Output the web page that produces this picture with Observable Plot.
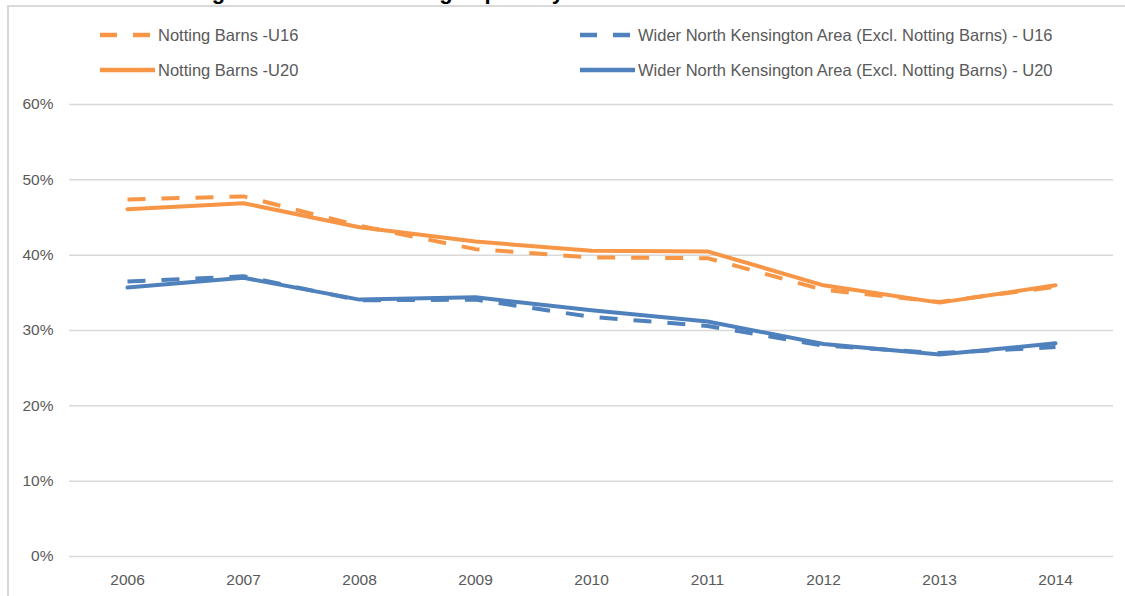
<!DOCTYPE html>
<html>
<head>
<meta charset="utf-8">
<script src="https://cdn.jsdelivr.net/npm/d3@7"></script>
<script src="https://cdn.jsdelivr.net/npm/@observablehq/plot@0.6"></script>
<style>
  html, body { margin: 0; padding: 0; background: #fff; overflow: hidden; }
  body { width: 1125px; height: 596px; position: relative; font-family: "Liberation Sans", Arial, sans-serif; }
  #title { position: absolute; left: 15px; top: -18px; font: bold 22px "Liberation Sans", Arial, sans-serif; line-height: 20px; color: #000; white-space: nowrap; }
  #frame { position: absolute; left: 7px; top: 5px; width: 1118px; height: 591px; border-top: 2px solid #d9d9d9; border-left: 2px solid #d9d9d9; box-sizing: border-box; background: transparent; }
  #legend { position: absolute; left: 0; top: 0; width: 1125px; height: 90px; }
  .item { position: absolute; height: 20px; display: flex; align-items: center; font-size: 16.5px; color: #595959; white-space: nowrap; }
  .item svg { margin-right: 3px; }
  #chart { position: absolute; left: 0; top: 90px; }
</style>
</head>
<body>
<div id="title">Chart 6: Children aged U16 and U20 living in poverty 2006 to 2014</div>
<div id="frame"></div>
<div id="legend"></div>
<div id="chart"></div>
<script>
const years = [2006, 2007, 2008, 2009, 2010, 2011, 2012, 2013, 2014];
const seriesNames = [
  "Notting Barns -U16",
  "Wider North Kensington Area (Excl. Notting Barns) - U16",
  "Notting Barns -U20",
  "Wider North Kensington Area (Excl. Notting Barns) - U20"
];
const nbU16 = [47.4, 47.8, 43.9, 40.8, 39.7, 39.6, 35.4, 33.8, 35.8];
const wnkU16 = [36.5, 37.2, 34.0, 34.1, 31.8, 30.6, 28.0, 27.0, 27.8];
const nbU20 = [46.1, 46.9, 43.7, 41.8, 40.6, 40.5, 36.0, 33.7, 36.0];
const wnkU20 = [35.7, 37.0, 34.1, 34.4, 32.7, 31.2, 28.2, 26.8, 28.3];
const yTicks = [0, 10, 20, 30, 40, 50, 60];

const orange = "#F79646";
const blue = "#4F81BD";
const styles = [
  {color: orange, dash: "18,16"},
  {color: blue, dash: "18,16"},
  {color: orange, dash: null},
  {color: blue, dash: null}
];
const values = [nbU16, wnkU16, nbU20, wnkU20];

const data = [];
values.forEach((vals, s) => vals.forEach((v, i) => data.push({series: seriesNames[s], year: years[i], value: v})));

// Legend
const legend = document.getElementById("legend");
const legendPos = [
  {x: 100, y: 25}, {x: 580, y: 25}, {x: 100, y: 60}, {x: 580, y: 60}
];
seriesNames.forEach((name, i) => {
  const div = document.createElement("div");
  div.className = "item";
  div.style.left = legendPos[i].x + "px";
  div.style.top = legendPos[i].y + "px";
  const st = styles[i];
  div.innerHTML = `<svg width="55" height="10"><line x1="0" y1="5" x2="55" y2="5" stroke="${st.color}" stroke-width="4.5" ${st.dash ? `stroke-dasharray="17,16"` : ""}/></svg><span>${name}</span>`;
  legend.appendChild(div);
});

const marks = [
  Plot.ruleY(yTicks, {stroke: "#d9d9d9", strokeWidth: 1.5}),
  Plot.axisY({ticks: yTicks, tickSize: 0, tickPadding: 16, tickFormat: d => d + "%", fontSize: 15.5, fill: "#595959"}),
  Plot.axisX({tickSize: 0, tickPadding: 17, tickFormat: d => String(d), fontSize: 15.5, fill: "#595959"})
];
seriesNames.forEach((name, i) => {
  marks.push(Plot.line(data.filter(d => d.series === name), {
    x: "year", y: "value",
    stroke: styles[i].color, strokeWidth: 4,
    strokeDasharray: styles[i].dash || undefined,
    strokeLinejoin: "round", strokeLinecap: styles[i].dash ? "butt" : "round"
  }));
});

const chart = Plot.plot({
  width: 1125,
  height: 506,
  marginLeft: 69,
  marginRight: 12,
  marginTop: 14,
  marginBottom: 40,
  style: {fontFamily: "'Liberation Sans', Arial, sans-serif", background: "transparent", overflow: "visible"},
  x: {type: "point", domain: years, padding: 0.5, label: null},
  y: {domain: [0, 60], label: null},
  marks
});
document.getElementById("chart").appendChild(chart);
</script>
</body>
</html>
